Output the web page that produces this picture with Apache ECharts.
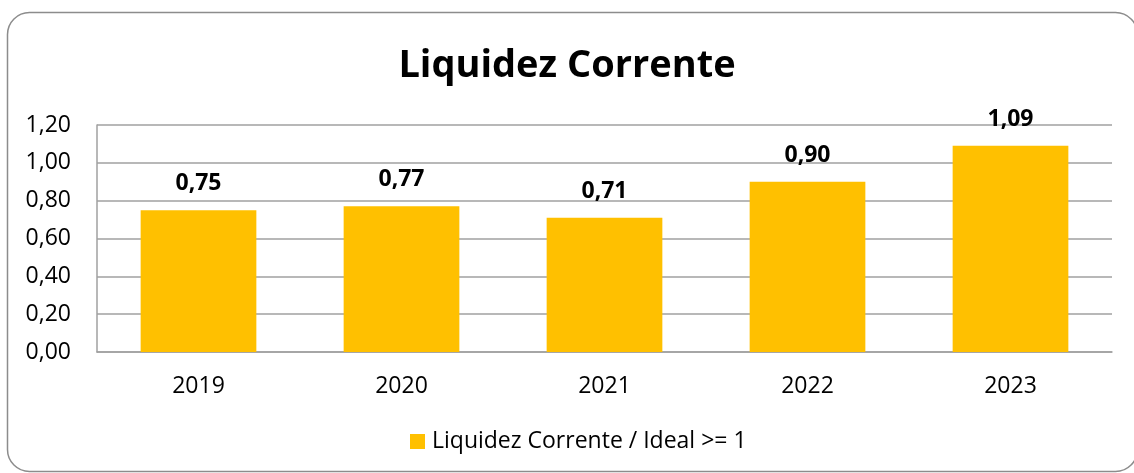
<!DOCTYPE html>
<html>
<head>
<meta charset="utf-8">
<script src="https://cdn.jsdelivr.net/npm/echarts@6/dist/echarts.min.js"></script>
<style>
html,body{margin:0;padding:0;background:#fff;}
#chart{width:1134px;height:473px;}
</style>
</head>
<body>
<div id="chart"></div>
<script>
const categories = ['2019', '2020', '2021', '2022', '2023'];
const values = [0.75, 0.77, 0.71, 0.90, 1.09];
const seriesName = 'Liquidez Corrente / Ideal >= 1';
const titleText = 'Liquidez Corrente';

const fmt = v => Number(v).toFixed(2).replace('.', ',');
const FONT = '"Open Sans", sans-serif';

const chart = echarts.init(document.getElementById('chart'));
chart.setOption({
  animation: false,
  backgroundColor: '#ffffff',
  graphic: [{
    type: 'rect',
    silent: true,
    shape: { x: 7.5, y: 12.5, width: 1130, height: 459, r: 22 },
    style: { fill: 'none', stroke: '#8c8c8c', lineWidth: 1.5 }
  }],
  title: {
    text: titleText,
    left: 'center',
    top: 42,
    textStyle: { fontFamily: FONT, fontSize: 38, fontWeight: 'bold', color: '#000' }
  },
  legend: {
    bottom: 15,
    left: 405,
    itemWidth: 15,
    itemHeight: 15,
    itemGap: 10,
    icon: 'rect',
    textStyle: { fontFamily: FONT, fontSize: 23, color: '#000', padding: [0, 0, 0, 2] },
    data: [seriesName]
  },
  grid: { left: 97, right: 22, top: 125, bottom: 121, containLabel: false },
  xAxis: {
    type: 'category',
    data: categories,
    axisLine: { show: true, lineStyle: { color: '#a0a0a0', width: 1.5 } },
    axisTick: { show: false },
    axisLabel: { fontFamily: FONT, fontSize: 23, color: '#000', margin: 23 }
  },
  yAxis: {
    type: 'value',
    min: 0,
    max: 1.2,
    interval: 0.2,
    axisLine: { show: true, lineStyle: { color: '#a0a0a0', width: 1.5 } },
    axisTick: { show: false },
    splitLine: { show: true, lineStyle: { color: '#a0a0a0', width: 1.5 } },
    axisLabel: { fontFamily: FONT, fontSize: 23, color: '#000', margin: 26, formatter: fmt }
  },
  series: [{
    name: seriesName,
    type: 'bar',
    data: values,
    barWidth: '57%',
    itemStyle: { color: '#FFC000' },
    label: {
      show: true,
      position: 'top',
      distance: 15,
      fontFamily: FONT,
      fontSize: 23,
      fontWeight: 'bold',
      color: '#000',
      formatter: p => fmt(p.value)
    }
  }]
});
</script>
</body>
</html>
